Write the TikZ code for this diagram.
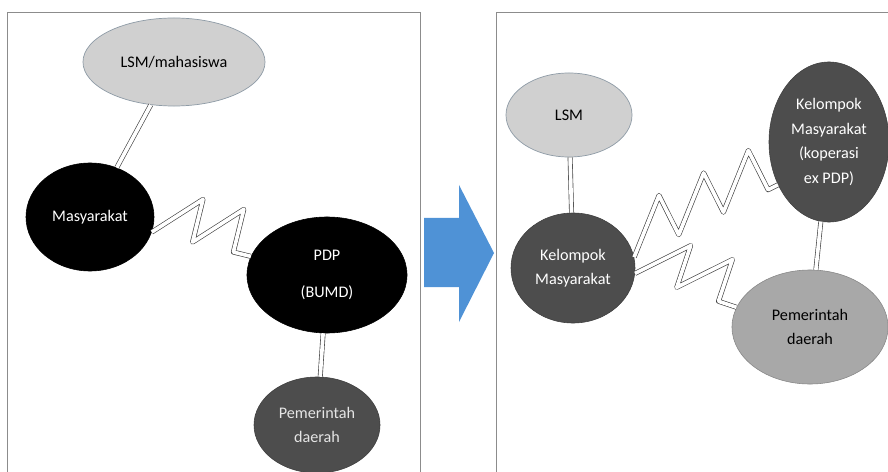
\documentclass[tikz,border=0pt]{standalone}
\usepackage{fontspec}
\setmainfont{Carlito}
\usepackage{tikz}
\usetikzlibrary{shapes.geometric, decorations.pathmorphing}

\definecolor{ovalGray}{HTML}{D0D0D0}
\definecolor{ovalEdge}{HTML}{8E9BA6}
\definecolor{darkOval}{HTML}{4D4D4D}
\definecolor{midOval}{HTML}{A8A8A8}
\definecolor{arrowBlue}{HTML}{4F92D6}

\begin{document}
\begin{tikzpicture}[
    x=0.025cm, y=-0.025cm,
    every node/.style={font=\fontsize{11.5}{17.5}\selectfont, align=center, inner sep=0pt},
    ovalLight/.style={ellipse, draw=ovalEdge, line width=0.5pt, fill=ovalGray, text=black},
    ovalBlack/.style={ellipse, draw=black, fill=black, text=white},
    ovalDark/.style={ellipse, draw=darkOval!80!black, fill=darkOval, text=white},
    ovalMid/.style={ellipse, draw=midOval!80!black, fill=midOval, text=black},
    frameBox/.style={draw=black!45, line width=0.6pt},
    twoLine/.style={double=white, draw=black!75, line width=0.45pt, double distance=2.6pt},
    bolt/.style={double=white, draw=black!75, line width=0.45pt, double distance=2.6pt, line join=round,
        decorate, decoration={saw, segment length=#1, amplitude=1.1cm}}
]
\useasboundingbox (0,0) rectangle (888,472);

% ============== Marcos ==============
\draw[frameBox] (7,12) rectangle (420,490);
\draw[frameBox] (496,12) rectangle (900,490);

% ============== Flecha ==============
\fill[arrowBlue] (424,218) -- (459,218) -- (459,185) -- (494,253) -- (459,322) -- (459,287) -- (424,287) -- cycle;

% ============== Sebelum (Izquierda) ==============
\node[ovalLight, minimum width=4.55cm, minimum height=2.2cm] (lsmL) at (174,62) {LSM/mahasiswa};
\node[ovalBlack, minimum width=3.2cm, minimum height=2.7cm] (masy) at (90,217) {Masyarakat};
\node[ovalBlack, minimum width=4.0cm, minimum height=2.9cm] (pdp) at (327,275) {PDP\\[9pt](BUMD)};
\node[ovalDark, minimum width=3.15cm, minimum height=2.4cm, text=black!10] (pemdaL) at (317,425) {Pemerintah\\daerah};

% ============== Sesudah (Derecha) ==============
\node[ovalLight, minimum width=3.15cm, minimum height=2.1cm] (lsmR) at (569,115) {LSM};
\node[ovalDark, minimum width=3.1cm, minimum height=2.75cm] (kmR) at (573,268) {Kelompok\\Masyarakat};
\node[ovalDark, minimum width=3.0cm, minimum height=4.0cm] (kmex) at (829,142) {Kelompok\\Masyarakat\\(koperasi\\ex PDP)};
\node[ovalMid, minimum width=3.9cm, minimum height=2.85cm] (pemdaR) at (810,327) {Pemerintah\\daerah};

% ============== Conexiones ==============
\draw[twoLine] (lsmL) -- (masy);
\draw[twoLine] (pdp) -- (pemdaL);
\draw[bolt=1.05cm] (masy) -- (pdp);

\draw[twoLine] (lsmR) -- (kmR);
\draw[twoLine] (kmex) -- (pemdaR);
\draw[bolt=1.25cm] (kmR.10) -- (kmex.220);
\draw[bolt=1.1cm] (kmR.-5) -- (pemdaR.165);
\end{tikzpicture}
\end{document}
